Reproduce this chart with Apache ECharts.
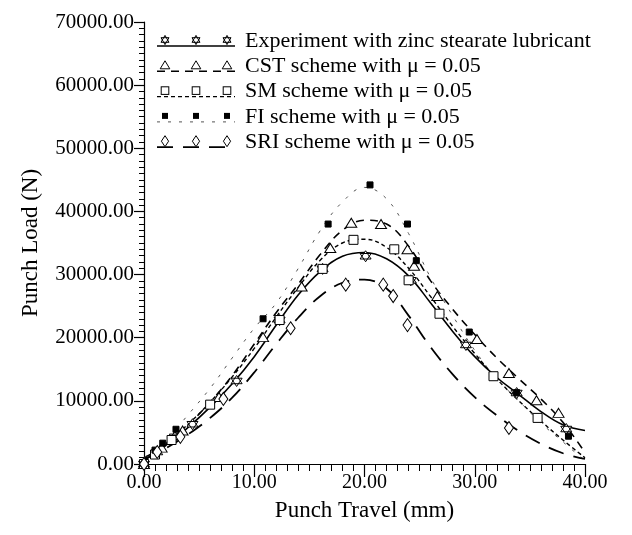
<!DOCTYPE html>
<html><head><meta charset="utf-8">
<script src="https://cdn.jsdelivr.net/npm/echarts@6/dist/echarts.min.js"></script>
<style>html,body{margin:0;padding:0;background:#fff}#c{width:632px;height:535px}</style>
</head><body><div id="c"></div>
<script>
// ---- data ----
const seriesNames = [
  'Experiment with zinc stearate lubricant',
  'CST scheme with \u03bc = 0.05',
  'SM scheme with \u03bc = 0.05',
  'FI scheme with \u03bc = 0.05',
  'SRI scheme with \u03bc = 0.05'
];
const xTicks = [0, 10, 20, 30, 40];
const yTicks = [0, 10000, 20000, 30000, 40000, 50000, 60000, 70000];

// fitted curves (Punch Travel mm -> Punch Load N)
const curveX   = [0, 2, 4, 6, 8, 10, 12, 14, 16, 18, 20, 22, 24, 26, 28, 30, 32, 34, 36, 38, 40];
const expCurve = [1000, 3000, 5800, 9000, 12700, 17000, 22000, 26800, 30500, 32900, 33500, 32500, 29800, 25500, 21000, 17000, 13700, 11000, 8300, 6200, 5300];
const cstCurve = [500, 3200, 6200, 9800, 14000, 19000, 24000, 28500, 33200, 37000, 38600, 38000, 34500, 29000, 24500, 20500, 16800, 13500, 10300, 6600, 1800];
const smCurve  = [800, 3300, 6300, 9800, 13800, 18300, 23300, 28000, 32300, 35000, 35600, 34300, 31000, 26500, 21800, 17500, 13500, 10000, 6800, 3800, 1000];
const fiCurve  = [1000, 3800, 7800, 12000, 16800, 21500, 25500, 31000, 37000, 41500, 43800, 42000, 36500, 29500, 23500, 18000, 13500, 10000, 6500, 3500, 500];
const sriCurve = [700, 2500, 4700, 7300, 10500, 14500, 19000, 23200, 26600, 28700, 29200, 27800, 23500, 18500, 14200, 10600, 7700, 5200, 3200, 1700, 800];

// measured / computed points
const expPtsX = [0, 1.2, 2.8, 4.4, 8.4, 12.3, 16.2, 20.1, 24.2, 29.2, 33.8, 38.3];
const expPtsY = [0, 1900, 4300, 6300, 13150, 22800, 30900, 32900, 29100, 18850, 11240, 5540];
const cstPtsX = [0, 1.6, 3.5, 6.8, 10.8, 14.3, 16.9, 18.8, 21.5, 23.9, 24.5, 26.6, 30.2, 33.1, 35.6, 37.6];
const cstPtsY = [0, 2600, 5300, 10600, 20100, 28100, 34200, 38200, 38000, 34000, 31400, 26600, 19800, 14400, 10100, 8100];
const smPtsX  = [0, 1.0, 2.5, 6.0, 12.3, 16.2, 19.0, 22.7, 24.0, 26.8, 31.7, 35.7];
const smPtsY  = [0, 1500, 3800, 9400, 22800, 30900, 35500, 34000, 29100, 23800, 13900, 7300];
const fiPtsX  = [0, 1.0, 1.7, 2.9, 10.8, 16.7, 20.5, 23.9, 24.7, 29.5, 33.8, 38.5];
const fiPtsY  = [0, 2200, 3300, 5500, 23000, 38000, 44200, 38000, 32200, 20900, 11300, 4400];
const sriPtsX = [0, 1.2, 3.3, 7.2, 13.3, 18.3, 21.7, 22.6, 23.9, 33.1];
const sriPtsY = [0, 1900, 4300, 10300, 21500, 28400, 28400, 26600, 22000, 5700];

// ---- build ----
const pair = (xs, ys) => xs.map((x, i) => [x, ys[i]]);
const FONT = 'Liberation Serif';

const starPath = 'path://M0,-10 L8.66,5 L-8.66,5 Z M0,10 L-8.66,-5 L8.66,-5 Z';

// legend icons (line sample + 3 markers) as SVG images
function markerSvg(kind, cx, cy) {
  const s = 'stroke="#000" stroke-width="1"';
  if (kind === 'star') {
    return `<polygon points="${cx},${cy-4.6} ${cx+4},${cy+2.3} ${cx-4},${cy+2.3}" fill="#fff" ${s}/>` +
           `<polygon points="${cx},${cy+4.6} ${cx-4},${cy-2.3} ${cx+4},${cy-2.3}" fill="none" ${s}/>`;
  }
  if (kind === 'tri') return `<polygon points="${cx},${cy-4.5} ${cx+4.8},${cy+3.5} ${cx-4.8},${cy+3.5}" fill="#fff" ${s}/>`;
  if (kind === 'sq') return `<rect x="${cx-3.8}" y="${cy-3.8}" width="7.6" height="7.6" fill="#fff" ${s}/>`;
  if (kind === 'fsq') return `<rect x="${cx-3}" y="${cy-3}" width="6" height="6" fill="#000"/>`;
  if (kind === 'dia') return `<polygon points="${cx},${cy-5.5} ${cx+3.6},${cy} ${cx},${cy+5.5} ${cx-3.6},${cy}" fill="#fff" ${s}/>`;
  return '';
}
function legendIcon(kind, dash, width, color) {
  const da = dash ? ` stroke-dasharray="${dash.join(',')}"` : '';
  let svg = `<svg xmlns="http://www.w3.org/2000/svg" width="83" height="22" viewBox="0 0 83 22">` +
    `<line x1="0" y1="16" x2="78" y2="16" stroke="${color}" stroke-width="${width}"${da}/>`;
  [8, 39, 70].forEach(cx => { svg += markerSvg(kind, cx, 10); });
  svg += '</svg>';
  return 'image://data:image/svg+xml;charset=utf-8,' + encodeURIComponent(svg);
}

const styles = [
  { curve: expCurve, px: expPtsX, py: expPtsY, kind: 'star', dash: null, w: 1.6, color: '#000',
    symbol: starPath, size: 11, fill: '#fff' },
  { curve: cstCurve, px: cstPtsX, py: cstPtsY, kind: 'tri', dash: [8, 6], w: 1.6, color: '#000',
    symbol: 'triangle', size: [11, 9], fill: '#fff' },
  { curve: smCurve, px: smPtsX, py: smPtsY, kind: 'sq', dash: [4, 3], w: 1.4, color: '#000',
    symbol: 'rect', size: 9, fill: '#fff' },
  { curve: fiCurve, px: fiPtsX, py: fiPtsY, kind: 'fsq', dash: [3, 8], w: 1, color: '#555',
    symbol: 'rect', size: 6, fill: '#000' },
  { curve: sriCurve, px: sriPtsX, py: sriPtsY, kind: 'dia', dash: [16, 10], w: 1.8, color: '#000',
    symbol: 'diamond', size: [9, 13], fill: '#fff' }
];

const series = [];
const legendData = [];
styles.forEach((st, i) => {
  series.push({
    name: seriesNames[i], type: 'line', smooth: 0.4, showSymbol: false, symbol: 'none',
    data: pair(curveX, st.curve),
    lineStyle: { color: st.color, width: st.w, type: st.dash || 'solid' },
    itemStyle: { color: st.color },
    silent: true, animation: false, z: 2
  });
  series.push({
    name: seriesNames[i], type: 'scatter', symbol: st.symbol, symbolSize: st.size,
    data: pair(st.px, st.py),
    itemStyle: { color: st.fill, borderColor: '#000', borderWidth: 1, opacity: 1 },
    silent: true, animation: false, z: 3
  });
  legendData.push({ name: seriesNames[i], icon: legendIcon(st.kind, st.dash, st.w, st.color) });
});

const chart = echarts.init(document.getElementById('c'), null, { renderer: 'canvas' });
chart.setOption({
  animation: false,
  backgroundColor: '#fff',
  grid: { left: 144, right: 47, top: 22, bottom: 71, containLabel: false, outerBoundsMode: 'none' },
  legend: {
    orient: 'vertical', left: 152, top: 25, data: legendData,
    itemWidth: 83, itemHeight: 22, itemGap: 3.3,
    textStyle: { fontFamily: FONT, fontSize: 22, color: '#000', padding: [0, 0, 0, 0] },
    selectedMode: false
  },
  xAxis: {
    type: 'value', min: xTicks[0], max: xTicks[xTicks.length - 1], interval: 10,
    name: 'Punch Travel (mm)', nameLocation: 'middle', nameGap: 35,
    nameTextStyle: { fontFamily: FONT, fontSize: 23, color: '#000' },
    axisLine: { onZero: false, lineStyle: { color: '#000', width: 1.2 } },
    axisTick: { show: true, inside: false, length: 13, lineStyle: { color: '#000', width: 1.2 } },
    minorTick: { show: true, splitNumber: 10, length: 7, lineStyle: { color: '#000', width: 1 } },
    splitLine: { show: false },
    axisLabel: { fontFamily: FONT, fontSize: 20, color: '#000', margin: 9,
      formatter: v => v.toFixed(2) }
  },
  yAxis: {
    type: 'value', min: yTicks[0], max: yTicks[yTicks.length - 1], interval: 10000,
    name: 'Punch Load (N)', nameLocation: 'middle', nameGap: 102,
    nameTextStyle: { fontFamily: FONT, fontSize: 23, color: '#000' },
    axisLine: { show: true, onZero: false, lineStyle: { color: '#000', width: 1.2 } },
    axisTick: { show: true, inside: false, length: 10, lineStyle: { color: '#000', width: 1.2 } },
    minorTick: { show: true, splitNumber: 10, length: 5, lineStyle: { color: '#000', width: 1 } },
    splitLine: { show: false },
    axisLabel: { fontFamily: FONT, fontSize: 21, color: '#000', margin: 10,
      formatter: v => v.toFixed(2) }
  },
  series: series
});
</script>
</body></html>
